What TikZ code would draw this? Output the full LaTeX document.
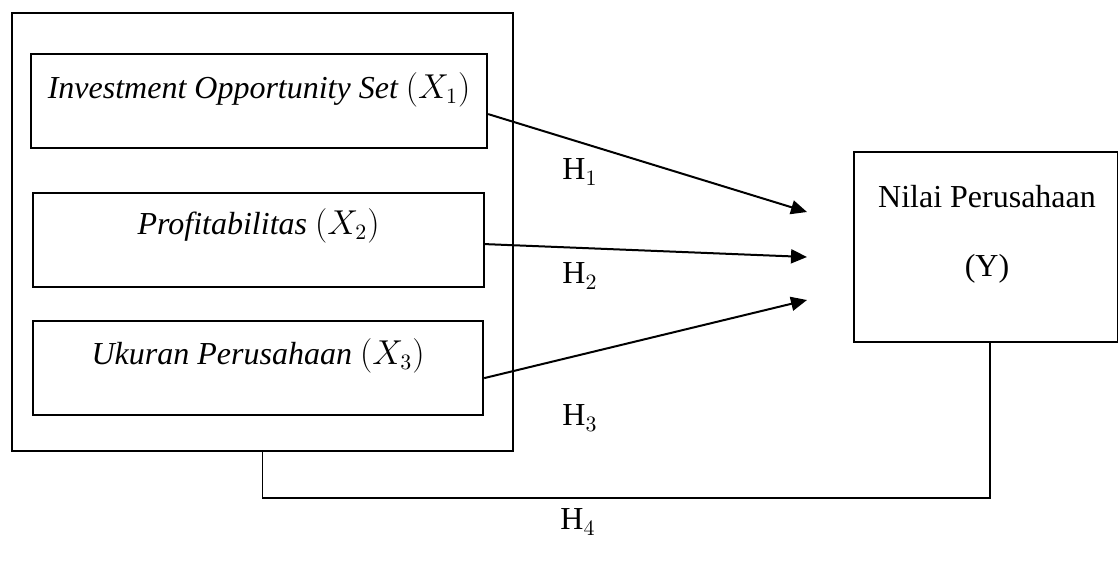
\documentclass[tikz,border=0pt]{standalone}
\usepackage{fontspec}
\setmainfont{Liberation Serif}
\usetikzlibrary{arrows.meta,calc}
\begin{document}
\begin{tikzpicture}[x=0.5pt,y=-0.5pt,
  every node/.style={font=\fontsize{16}{19}\selectfont},
  varbox/.style={draw,line width=1.1pt,inner sep=0pt,anchor=north west},
  frame/.style={draw,line width=1.1pt,inner sep=0pt,anchor=north west},
  arr/.style={line width=1pt,-{Triangle[length=8pt,width=7pt]}},
  link/.style={line width=0.8pt},
  hyp/.style={inner sep=0pt}]
\useasboundingbox (0,0) rectangle (1118,563);
\node[frame,minimum width=250.5pt,minimum height=218.75pt] (outer) at (11,12) {};
\node[varbox,minimum width=228pt,text height=22pt,text depth=25pt] (b1) at (30,53)
  {\itshape Investment Opportunity Set \upshape$(X_1)$};
\node[varbox,minimum width=225.5pt,text height=20.5pt,text depth=26.5pt] (b2) at (32,192)
  {\itshape Profitabilitas \upshape$(X_2)$};
\node[varbox,minimum width=225pt,text height=21.5pt,text depth=25.5pt] (b3) at (32,320)
  {\itshape Ukuran Perusahaan \upshape$(X_3)$};
\node[frame,line width=0.9pt,minimum width=132pt,minimum height=95pt] (Y) at (853,151) {};
\node[anchor=base,inner sep=0pt] (ytext1) at (987,207) {Nilai Perusahaan};
\node[anchor=base,inner sep=0pt] (ytext2) at (987,276) {(Y)};
\coordinate (t1) at (807,212);
\coordinate (t2) at (807,257);
\coordinate (t3) at (807,300);
\coordinate (c) at (990,498);
\draw[arr] ([yshift=-6.5pt]b1.east) -- (t1);
\draw[arr] ([yshift=-2pt]b2.east) -- (t2);
\draw[arr] ([yshift=-5pt]b3.east) -- (t3);
\draw[link] (outer.south) -- (outer.south |- c) -- (c) -- (c |- Y.south);
\node[hyp] (h1) at (580,172) {$\mathrm{H}_1$};
\node[hyp] (h2) at (580,276) {$\mathrm{H}_2$};
\node[hyp] (h3) at (580,418) {$\mathrm{H}_3$};
\node[hyp] (h4) at (578,522) {$\mathrm{H}_4$};
\end{tikzpicture}
\end{document}
